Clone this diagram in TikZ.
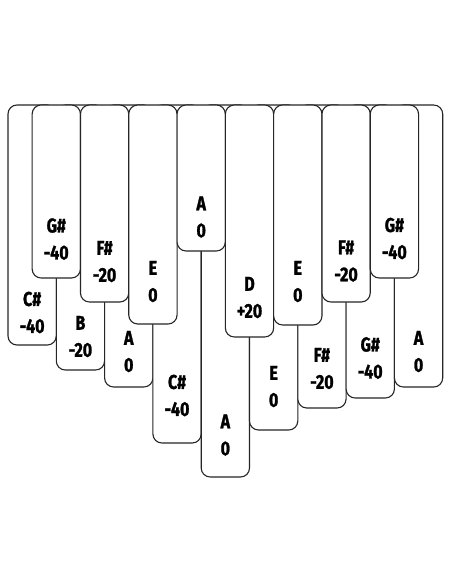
\documentclass[tikz,border=0pt]{standalone}
\usepackage{fontspec}
\setmainfont{Fira Sans}[FakeStretch=0.8, BoldFeatures={FakeBold=1.3}]
\usetikzlibrary{calc}
\begin{document}
\begin{tikzpicture}[x=1pt,y=-1pt,
  tine/.style={draw=black!85, fill=white, line width=1.1pt, rounded corners=9pt,
    minimum width=48.3pt, anchor=north west, inner sep=0pt, outer sep=0pt},
  lbl/.style={font=\fontsize{20}{27}\selectfont\bfseries, align=center, inner sep=0pt}]
\useasboundingbox (0,0) rectangle (452,584);
% back layer
\foreach \i/\b in {0/345,1/370,2/387,3/443,4/477,5/430,6/408,7/398,8/387}{
  \node[tine, minimum height={\b-105}] (b\i) at ({8+\i*48.3},105) {};
}
% front layer
\foreach \j/\b in {0/278,1/302,2/324,3/251,4/337,5/325,6/302,7/278}{
  \node[tine, minimum height={\b-105}] (f\j) at ({32.15+\j*48.3},105) {};
}
% back labels
\foreach \i/\c/\t in {0/207.5/C\#\\-40, 1/231.5/B\\-20, 2/246.5/A\\0, 3/290.5/C\#\\-40,
  4/330/A\\0, 5/281.5/E\\0, 6/263.5/F\#\\-20, 7/253/G\#\\-40, 8/246.5/A\\0}{
  \node[lbl] (tb\i) at ($(b\i.north)+(0,\c)$) {\t};
}
% front labels
\foreach \j/\c/\t in {0/134/G\#\\-40, 1/156.5/F\#\\-20, 2/176.5/E\\0, 3/112/A\\0,
  4/192.5/D\\+20, 5/176.5/E\\0, 6/156/F\#\\-20, 7/133.5/G\#\\-40}{
  \node[lbl] (tf\j) at ($(f\j.north)+(0,\c)$) {\t};
}
\end{tikzpicture}
\end{document}
